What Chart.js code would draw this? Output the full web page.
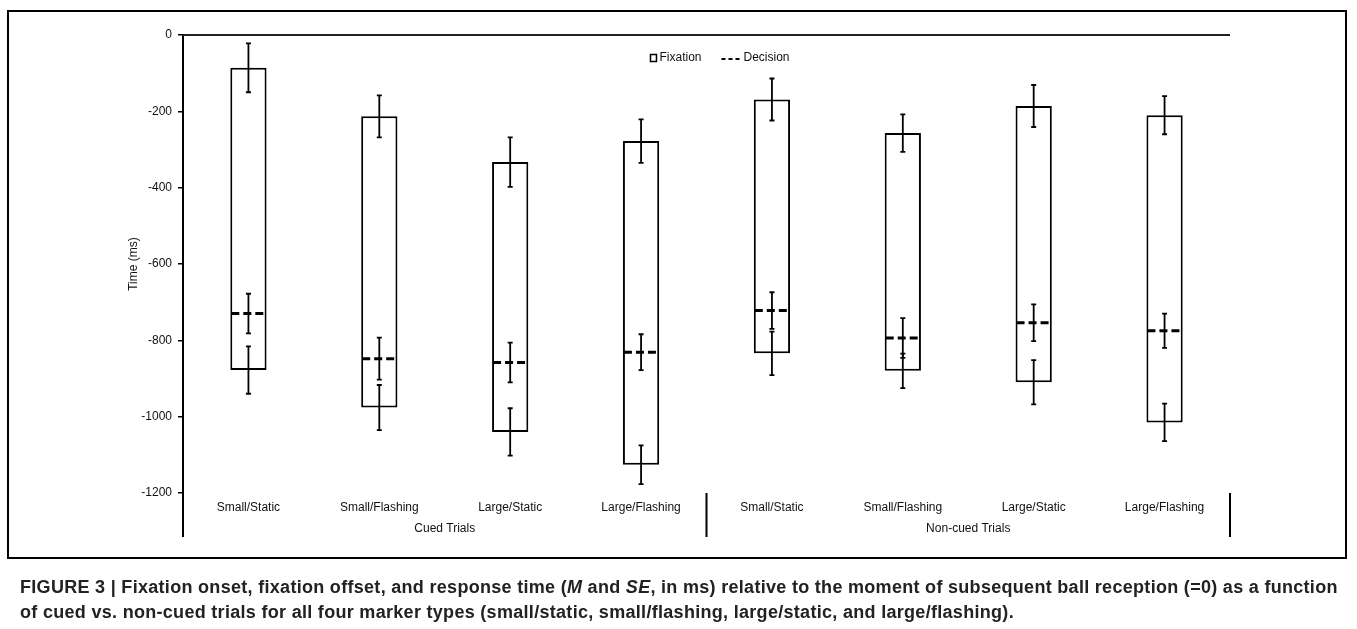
<!DOCTYPE html>
<html>
<head>
<meta charset="utf-8">
<script src="https://cdn.jsdelivr.net/npm/chart.js@4.4.1/dist/chart.umd.min.js"></script>
<style>
    body { margin: 0; background: #fff; }
    #wrap { position: relative; width: 1357px; height: 629px; }
    #marco { position: absolute; left: 7px; top: 10px; width: 1340px; height: 549px; border: 2px solid #000; box-sizing: border-box; }
    #grafica { position: absolute; left: 0; top: 0; }
    #caption { position: absolute; left: 20px; top: 575px; width: 1330px; font-family: "Liberation Sans", Arial, sans-serif; font-weight: bold; font-size: 18px; letter-spacing: 0.3px; line-height: 25px; color: #222; white-space: nowrap; }
</style>
</head>
<body>
<div id="wrap">
    <div id="marco"></div>
    <canvas id="grafica" width="1357" height="629"></canvas>
    <div id="caption">FIGURE 3 | Fixation onset, fixation offset, and response time (<i>M</i> and <i>SE</i>, in ms) relative to the moment of subsequent ball reception (=0) as a function<br>of cued vs. non-cued trials for all four marker types (small/static, small/flashing, large/static, and large/flashing).</div>
</div>
<script>
// Datos (ms relativos a la recepción del balón)
const categorias = ["Small/Static", "Small/Flashing", "Large/Static", "Large/Flashing",
                    "Small/Static", "Small/Flashing", "Large/Static", "Large/Flashing"];
const grupos = ["Cued Trials", "Non-cued Trials"];
const porGrupo = 4;

const inicioFijacion = [-878, -976, -1040, -1126, -834, -880, -910, -1015];
const inicioSE = [62, 59, 62, 51, 57, 45, 58, 49];
const finFijacion = [-86, -213, -333, -278, -169, -257, -186, -210];
const finSE = [64, 55, 65, 57, 55, 49, 55, 50];
const decision = [-730, -848, -858, -831, -722, -794, -754, -775];
const decisionSE = [52, 55, 52, 47, 48, 52, 48, 45];

const ticksY = [0, -200, -400, -600, -800, -1000, -1200];
const etiquetaDecision = "Decision";

Chart.defaults.font.family = '"Liberation Sans", Arial, sans-serif';
Chart.defaults.font.size = 12;
Chart.defaults.color = "#111";

// Plugin para errores, línea de decisión, leyenda y separadores
const extras = {
    id: "extras",
    afterDatasetsDraw(chart) {
        const ctx = chart.ctx;
        const y = chart.scales.y;
        const x = chart.scales.x;
        const area = chart.chartArea;
        const meta = chart.getDatasetMeta(0);

        ctx.save();
        // eje superior en 0
        ctx.strokeStyle = "#222";
        ctx.lineWidth = 2;
        ctx.beginPath();
        ctx.moveTo(area.left, y.getPixelForValue(0));
        ctx.lineTo(area.right, y.getPixelForValue(0));
        ctx.stroke();

        // linea de decisión discontinua
        meta.data.forEach(function (bar, i) {
            const py = y.getPixelForValue(decision[i]);
            ctx.strokeStyle = "#000";
            ctx.lineWidth = 3;
            ctx.setLineDash([8, 4]);
            ctx.beginPath();
            ctx.moveTo(bar.x - bar.width / 2 + 1, py);
            ctx.lineTo(bar.x + bar.width / 2 - 1, py);
            ctx.stroke();
        });
        ctx.setLineDash([]);

        // barras de error
        function error(px, valor, se) {
            const y1 = y.getPixelForValue(valor + se);
            const y2 = y.getPixelForValue(valor - se);
            ctx.lineWidth = 1.8;
            ctx.strokeStyle = "#000";
            ctx.beginPath();
            ctx.moveTo(px, y1);
            ctx.lineTo(px, y2);
            ctx.moveTo(px - 2.5, y1);
            ctx.lineTo(px + 2.5, y1);
            ctx.moveTo(px - 2.5, y2);
            ctx.lineTo(px + 2.5, y2);
            ctx.stroke();
        }
        meta.data.forEach(function (bar, i) {
            error(bar.x, finFijacion[i], finSE[i]);
            error(bar.x, inicioFijacion[i], inicioSE[i]);
            error(bar.x, decision[i], decisionSE[i]);
        });

        // prolongación del eje y separadores de grupo
        const abajo = area.bottom + 44;
        ctx.lineWidth = 2;
        ctx.strokeStyle = "#000";
        const paso = x.getPixelForValue(1) - x.getPixelForValue(0);
        const separadores = [area.left];
        for (let g = 1; g <= grupos.length; g++) {
            separadores.push(x.getPixelForValue(g * porGrupo - 1) + paso / 2);
        }
        separadores.forEach(function (sx) {
            ctx.beginPath();
            ctx.moveTo(sx, area.bottom);
            ctx.lineTo(sx, abajo);
            ctx.stroke();
        });

        // nombres de grupo
        ctx.fillStyle = "#111";
        ctx.font = '12px "Liberation Sans", Arial, sans-serif';
        ctx.textAlign = "center";
        ctx.textBaseline = "middle";
        grupos.forEach(function (g, k) {
            const cx = (separadores[k] + separadores[k + 1]) / 2;
            ctx.fillText(g, cx, area.bottom + 36);
        });

        // leyenda
        const lx = area.left + (area.right - area.left) * 0.4465;
        const ly = area.top + 23;
        ctx.lineWidth = 1.5;
        ctx.strokeRect(lx, ly - 3.5, 6, 7);
        ctx.textAlign = "left";
        ctx.fillText(chart.data.datasets[0].label, lx + 9, ly);
        const dx = lx + 71;
        ctx.lineWidth = 1.8;
        ctx.setLineDash([4, 3]);
        ctx.beginPath();
        ctx.moveTo(dx, ly + 1);
        ctx.lineTo(dx + 20, ly + 1);
        ctx.stroke();
        ctx.setLineDash([]);
        ctx.fillText(etiquetaDecision, dx + 22, ly);
        ctx.restore();
    }
};

const ctx = document.getElementById("grafica").getContext("2d");
const myChart = new Chart(ctx, {
    type: "bar",
    data: {
        labels: categorias,
        datasets: [
            {
                label: "Fixation",
                data: inicioFijacion.map((v, i) => [v, finFijacion[i]]),
                backgroundColor: "#fff",
                borderColor: "#000",
                borderWidth: 2,
                borderSkipped: false,
                barPercentage: 0.277,
                categoryPercentage: 1,
            },
        ],
    },
    options: {
        responsive: false,
        animation: false,
        layout: { padding: { left: 120, right: 127, top: 35, bottom: 106 } },
        plugins: { legend: { display: false }, tooltip: { enabled: false } },
        scales: {
            x: {
                grid: { display: false, drawTicks: false },
                border: { display: false },
                ticks: { padding: 7, color: "#111", maxRotation: 0, autoSkip: false },
                afterFit: function (scale) { scale.height = 30; },
            },
            y: {
                min: ticksY[ticksY.length - 1],
                max: ticksY[0],
                afterBuildTicks: function (scale) {
                    scale.ticks = ticksY.map((v) => ({ value: v }));
                },
                ticks: {
                    padding: 6,
                    color: "#111",
                    callback: function (v) { return String(v); },
                },
                grid: { drawOnChartArea: false, drawTicks: true, tickLength: 5, color: "#000", lineWidth: 1.5 },
                border: { display: true, color: "#000", width: 2 },
                title: { display: true, text: "Time (ms)", color: "#111", padding: { top: 6, bottom: 0 } },
                afterFit: function (scale) { scale.width = 63; },
            },
        },
    },
    plugins: [extras],
});
</script>
</body>
</html>
